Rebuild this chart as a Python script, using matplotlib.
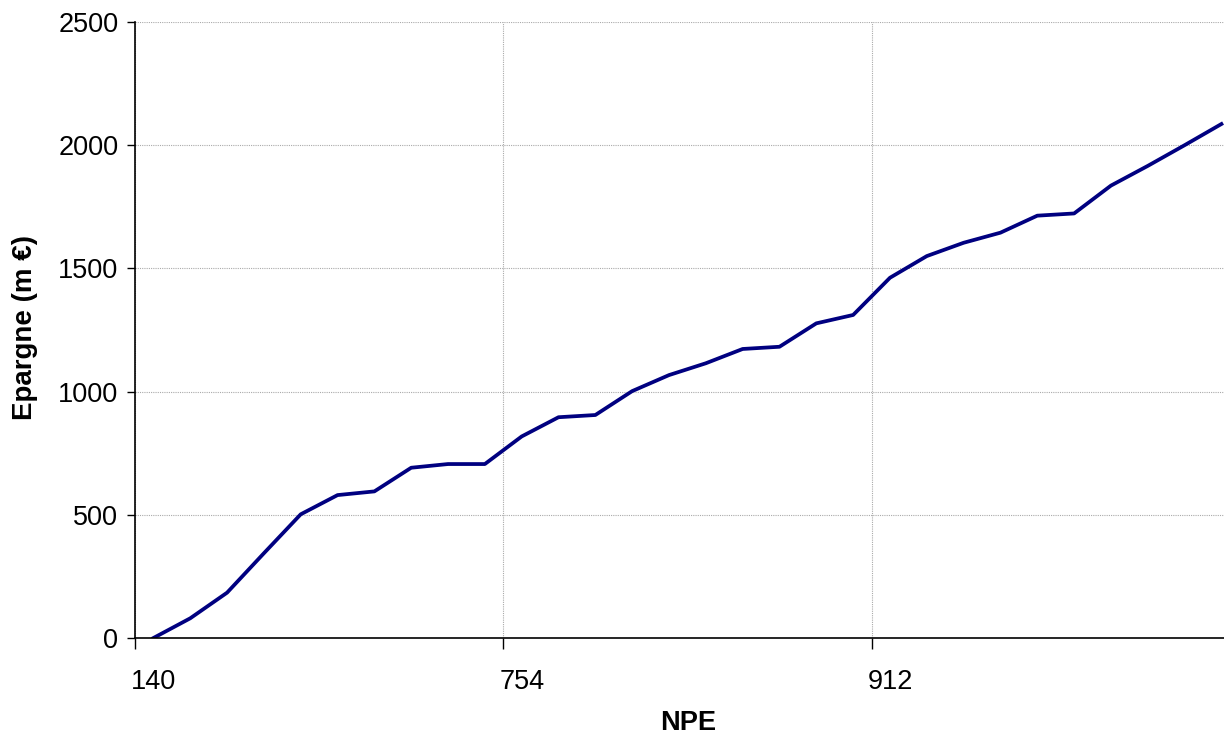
import matplotlib.pyplot as plt
import matplotlib.ticker as ticker

# NPE categories (only every 10th label is shown on the axis)
npe_labels = ["140", "754", "912"]
label_every = 10

# Epargne (m EUR), one value per NPE category
epargne = [0, 80, 184, 344, 502, 580, 595, 691, 706, 706,
           818, 896, 905, 1002, 1067, 1115, 1173, 1182, 1277, 1311,
           1462, 1550, 1604, 1645, 1714, 1723, 1836, 1916, 2000, 2086]

y_ticks = [0, 500, 1000, 1500, 2000, 2500]

plt.rcParams['font.family'] = ['Liberation Sans', 'DejaVu Sans']

fig = plt.figure(figsize=(12.24, 7.34), dpi=100)
ax = fig.add_axes([135 / 1224, 96 / 734, 1 - 135 / 1224, 616 / 734])

x = list(range(1, len(epargne) + 1))
ax.plot(x, epargne, color="#000080", linewidth=2.7, solid_joinstyle="round")

ax.set_ylim(0, 2500)
ax.set_xlim(0.5, len(epargne) + 0.07)

ax.set_yticks(y_ticks)
ax.yaxis.set_major_formatter(ticker.FormatStrFormatter("%d"))

# ticks at category boundaries, labels at category centres
bounds = [0.5 + i * label_every for i in range(len(npe_labels))]
centres = [1 + i * label_every for i in range(len(npe_labels))]
ax.set_xticks(bounds)
ax.set_xticklabels([""] * len(bounds))
ax.set_xticks(centres, minor=True)
ax.set_xticklabels(npe_labels, minor=True)
ax.tick_params(axis="x", which="minor", length=0, pad=22, labelsize=19.5)
ax.tick_params(axis="x", which="major", length=8, width=1, direction="out")
ax.tick_params(axis="y", length=6, width=1, direction="out", pad=6, labelsize=19.5)

ax.grid(True, which="major", color="#aaaaaa", linestyle=(0, (1, 1)), linewidth=0.8)
ax.set_axisbelow(True)

for s in ["top", "right"]:
    ax.spines[s].set_visible(False)
for s in ["left", "bottom"]:
    ax.spines[s].set_linewidth(1.2)
    ax.spines[s].set_color("black")

fig.text(688 / 1224, 1 - 723 / 734, "NPE", fontsize=19.5, fontweight="bold", ha="center", va="center")
fig.text(25 / 1224, 1 - 328 / 734, "Epargne (m €)", fontsize=20, fontweight="bold",
         rotation=90, ha="center", va="center")

fig.savefig("out.png", dpi=100)
